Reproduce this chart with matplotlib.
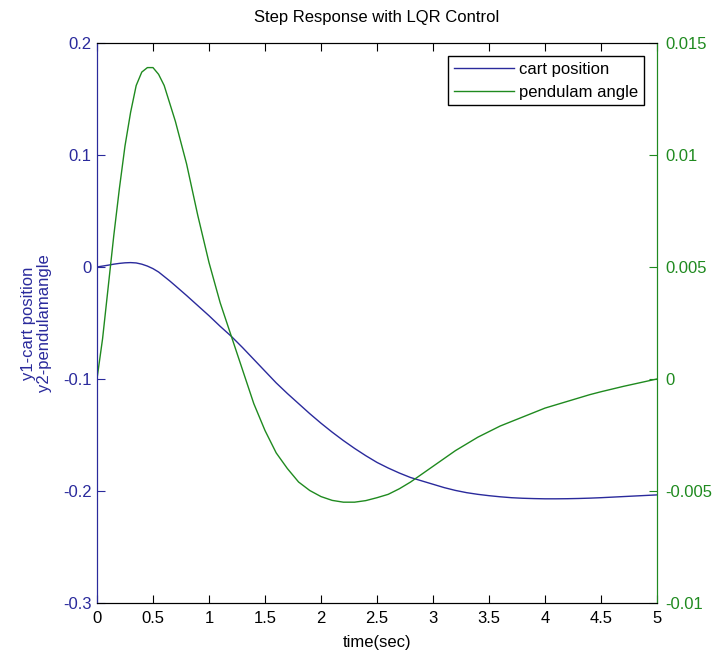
import numpy as np
import matplotlib.pyplot as plt

plt.rcParams['font.family'] = ['Liberation Sans Narrow', 'Liberation Sans', 'DejaVu Sans']

# time samples (sec)
t = [0, 0.05, 0.1, 0.15, 0.2, 0.25, 0.3, 0.35, 0.4, 0.45, 0.5, 0.55, 0.6, 0.65, 0.7,
     0.8, 0.9, 1.0, 1.1, 1.2, 1.3, 1.4, 1.5, 1.6, 1.7, 1.8, 1.9,
     2.0, 2.1, 2.2, 2.3, 2.4, 2.5, 2.6, 2.7, 2.8, 2.9,
     3.0, 3.1, 3.2, 3.3, 3.4, 3.5, 3.6, 3.7, 3.8, 3.9,
     4.0, 4.1, 4.2, 4.3, 4.4, 4.5, 4.6, 4.7, 4.8, 4.9, 5.0]

# y1 - cart position (left axis)
cart = [0, 0.0008, 0.0016, 0.0025, 0.0032, 0.0037, 0.0039, 0.0036, 0.0025, 0.0008, -0.0015, -0.0045, -0.0085, -0.0125, -0.0168,
        -0.0255, -0.0345, -0.0435, -0.0530, -0.0620, -0.0720, -0.0825, -0.0930, -0.1035, -0.1130, -0.1220, -0.1310,
        -0.1395, -0.1475, -0.1550, -0.1620, -0.1685, -0.1745, -0.1795, -0.1840, -0.1880, -0.1910,
        -0.1940, -0.1970, -0.1995, -0.2015, -0.2030, -0.2042, -0.2052, -0.2060, -0.2065, -0.2068,
        -0.2070, -0.2070, -0.2069, -0.2067, -0.2064, -0.2060, -0.2055, -0.2050, -0.2045, -0.2040, -0.2035]

# y2 - pendulum angle (right axis)
angle = [0, 0.0018, 0.0041, 0.0064, 0.0085, 0.0104, 0.0119, 0.0131, 0.0137, 0.0139, 0.0139, 0.0136, 0.0131, 0.0123, 0.0115,
         0.0096, 0.0073, 0.0052, 0.0034, 0.0019, 0.0004, -0.0011, -0.0023, -0.0033, -0.0040, -0.0046, -0.00498,
         -0.00525, -0.00542, -0.0055, -0.0055, -0.00543, -0.0053, -0.00515, -0.0049, -0.0046, -0.00425,
         -0.0039, -0.00355, -0.0032, -0.0029, -0.0026, -0.00235, -0.0021, -0.0019, -0.0017, -0.0015,
         -0.0013, -0.00115, -0.0010, -0.00085, -0.0007, -0.00057, -0.00045, -0.00033, -0.00022, -0.00011, 0.0]

blue = '#2a2a9c'
green = '#1f8a1f'
fs = 12

fig = plt.figure(figsize=(7.2, 6.64), dpi=100)
ax1 = fig.add_axes([0.1347, 0.0919, 0.7778, 0.8434])
ax2 = ax1.twinx()

l1, = ax1.plot(t, cart, color=blue, lw=1.0, label='cart position')
l2, = ax2.plot(t, angle, color=green, lw=1.0, label='pendulam angle')

ax1.set_xlim(0, 5)
ax1.set_ylim(-0.3, 0.2)
ax2.set_ylim(-0.01, 0.015)
ax1.set_xticks(np.arange(0, 5.01, 0.5))
ax1.set_xticklabels(['0', '0.5', '1', '1.5', '2', '2.5', '3', '3.5', '4', '4.5', '5'])
ax1.set_yticks([-0.3, -0.2, -0.1, 0, 0.1, 0.2])
ax1.set_yticklabels(['-0.3', '-0.2', '-0.1', '0', '0.1', '0.2'])
ax2.set_yticks([-0.01, -0.005, 0, 0.005, 0.01, 0.015])
ax2.set_yticklabels(['-0.01', '-0.005', '0', '0.005', '0.01', '0.015'])

ax1.tick_params(axis='x', direction='in', top=True, length=6, labelsize=fs, colors='black', pad=6)
ax1.tick_params(axis='y', direction='in', length=6, labelsize=fs, colors=blue, pad=4)
ax2.tick_params(axis='y', direction='in', length=6, labelsize=fs, colors=green, pad=6)

for ax in (ax1, ax2):
    ax.spines['top'].set_color('black')
    ax.spines['bottom'].set_color('black')
    ax.spines['left'].set_color(blue)
    ax.spines['right'].set_color(green)

ax1.set_title('Step Response with LQR Control', fontsize=fs, pad=15)
ax1.set_xlabel('time(sec)', fontsize=fs, labelpad=6)
ax1.set_ylabel('y1-cart position\ny2-pendulamangle', fontsize=fs, color=blue,
               linespacing=1.05, labelpad=8)

leg = ax2.legend(handles=[l1, l2], loc='upper right', fontsize=fs, fancybox=False,
                 framealpha=1, edgecolor='black', handlelength=3.6, borderaxespad=0.8,
                 labelspacing=0.45, handletextpad=0.3, borderpad=0.35)
leg.get_frame().set_linewidth(1.0)

fig.savefig('out.png', dpi=100)
